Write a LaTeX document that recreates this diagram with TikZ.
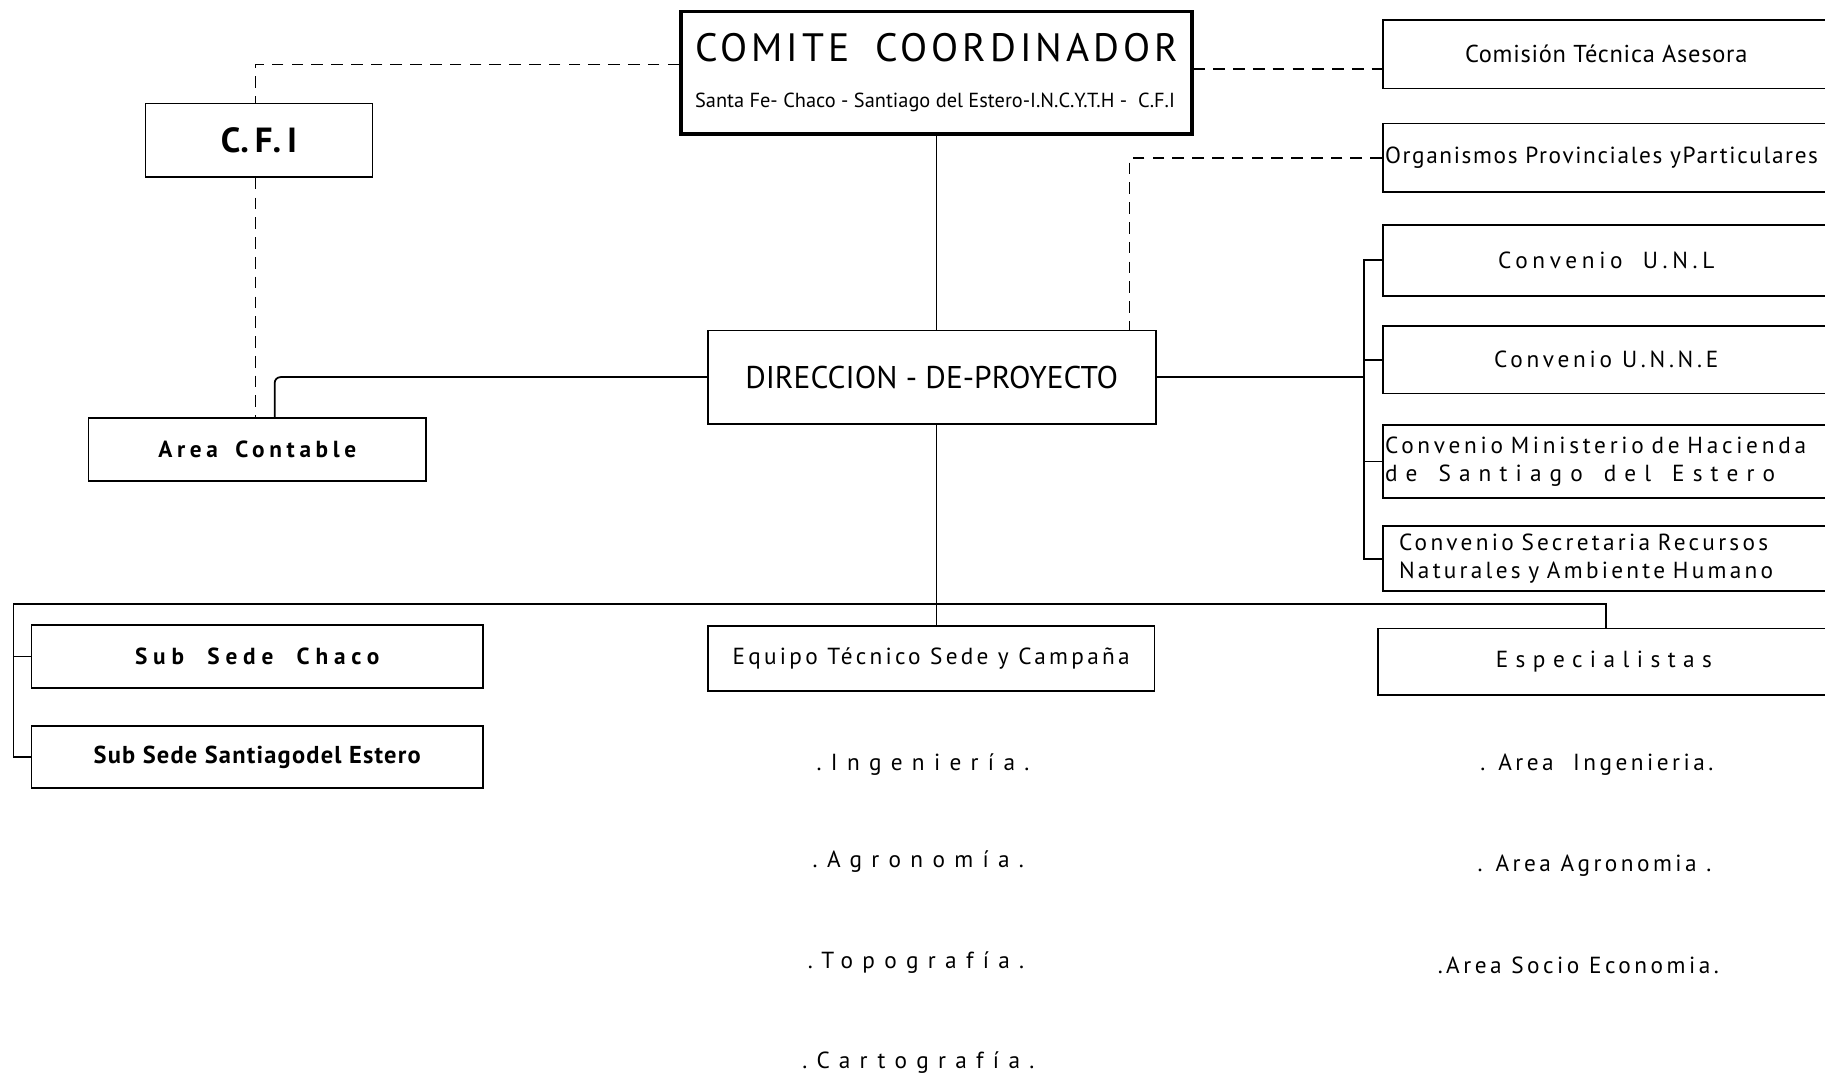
\documentclass[tikz,border=0pt]{standalone}
\usepackage{fontspec}
\setmainfont{PT Sans}
\newcommand{\ls}[1]{\addfontfeatures{LetterSpace=#1}}
\newcommand{\fsz}[1]{\fontsize{#1}{1.2\dimexpr#1pt\relax}\selectfont}

\tikzset{
  box/.style={draw, line width=1.5pt, inner sep=2pt},
  link/.style={line width=1.5pt},
  dlink/.style={line width=1.5pt, dash pattern=on 10pt off 7pt},
  item/.style={inner sep=0pt, font=\fsz{20}\ls{40}}
}

\begin{document}
\begin{tikzpicture}[x=1pt,y=1pt]
  \useasboundingbox (0,0) rectangle (1568,-927);

  % top
  \node[box, line width=3pt, minimum width=439pt, minimum height=105pt,
        align=left, inner xsep=3pt, font=\fsz{34}] (comite) at (804.5,-62.5)
  {{\ls{10}COMITE\hspace{22pt}COORDINADOR}\\[-1pt]
   {\fsz{17.5}Santa Fe- Chaco - Santiago del Estero-I.N.C.Y.T.H -\ \ C.F.I}};

  \node[box, minimum width=195pt, minimum height=63pt, font=\fsz{30}\bfseries]
  (cfi) at (222.5,-120.5) {C.\,F.\,I};

  \node[box, minimum width=384pt, minimum height=59pt, font=\fsz{21}\ls{3}]
  (com) at (1380,-46.5) {Comisión Técnica Asesora};
  \node[box, minimum height=59pt, text width=380pt, align=left, font=\fsz{20}\ls{7}]
  (org) at (1380,-135.5) {Organismos Provinciales yParticulares};

  % middle
  \node[box, minimum width=385pt, minimum height=80pt, font=\fsz{27}]
  (dir) at (800.5,-324) {DIRECCION - DE-PROYECTO};
  \node[box, minimum width=290pt, minimum height=54pt, font=\fsz{20}\bfseries\ls{20}]
  (ac) at (221,-386) {Area\hspace{6pt} Contable};

  \node[box, minimum width=384pt, minimum height=61pt, font=\fsz{20}\ls{20}]
  (unl) at (1380,-223.5) {Convenio\hspace{8pt} U.N.L};
  \node[box, minimum width=384pt, minimum height=58pt, font=\fsz{20}\ls{16}]
  (unne) at (1380,-309) {Convenio U.N.N.E};
  \node[box, minimum height=63pt, text width=380pt, align=left, font=\fsz{20}\ls{16}]
  (min) at (1380,-396.5) {Convenio Ministerio de Hacienda\\
  {\ls{35}de\hspace{18pt}Santiago\hspace{18pt}del\hspace{18pt}Estero}};
  \node[box, minimum height=56pt, text width=356pt, inner xsep=14pt, align=left,
        font=\fsz{20}\ls{14}]
  (sec) at (1380,-480) {Convenio Secretaria Recursos\\Naturales y Ambiente Humano};

  % bottom
  \node[box, minimum width=388pt, minimum height=54pt, font=\fsz{20}\bfseries\ls{25}]
  (chaco) at (221,-564) {Sub\hspace{10pt} Sede\hspace{10pt} Chaco};
  \node[box, minimum width=388pt, minimum height=53pt, font=\fsz{21}\bfseries\ls{5}]
  (ssant) at (221,-650.5) {Sub Sede Santiagodel Estero};
  \node[box, minimum width=384pt, minimum height=56pt, font=\fsz{20}\ls{14}]
  (equipo) at (800,-566) {Equipo Técnico Sede y Campaña};
  \node[box, minimum width=388pt, minimum height=57pt, font=\fsz{20}\ls{32}]
  (esp) at (1378,-568.5) {Especialistas};

  \node[item] (ing) at (793,-657) {.Ingeniería.};
  \node[item] (agr) at (789,-740) {.Agronomía.};
  \node[item] (top) at (787,-827) {.Topografía.};
  \node[item] (car) at (789,-913) {.Cartografía.};

  \node[item, font=\fsz{20}\ls{15}] (aing) at (1372,-657) {. Area \ Ingenieria.};
  \node[item, font=\fsz{20}\ls{15}] (aagr) at (1370,-744) {. Area Agronomia .};
  \node[item, font=\fsz{20}\ls{15}] (asoc) at (1356,-829) {.Area Socio Economia.};

  % links
  \draw[link] (comite.south) -- (comite.south |- dir.north);
  \draw[link] (comite.south |- dir.south) -- (comite.south |- equipo.north);
  \draw[link, rounded corners=5pt] (dir.west) -| ([xshift=15pt]ac.north);

  \draw[dlink] ([yshift=7pt]comite.west) -| ([xshift=-3pt]cfi.north);
  \draw[dlink] ([xshift=-3pt]cfi.south) -- ([xshift=-3pt]cfi.south |- ac.north);
  \draw[dlink] ([yshift=3pt]comite.east) -- ([yshift=3pt]comite.east -| com.west);
  \draw[dlink] (org.west) -| ([xshift=170pt]dir.north);

  \coordinate (rb) at (1172,-324);
  \draw[link] (dir.east) -- (dir.east -| rb);
  \draw[link] (unl.west) -| (rb) |- (sec.west);
  \draw[link] (unne.west) -- (unne.west -| rb);
  \draw[link] (min.west) -- (min.west -| rb);

  \coordinate (bl) at (11.5,-519);
  \coordinate (br) at (1380,-519);
  \draw[link] (chaco.west) -- (chaco.west -| bl);
  \draw[link] (ssant.west) -| (bl) -- (br) -- (br |- esp.north);
\end{tikzpicture}
\end{document}
